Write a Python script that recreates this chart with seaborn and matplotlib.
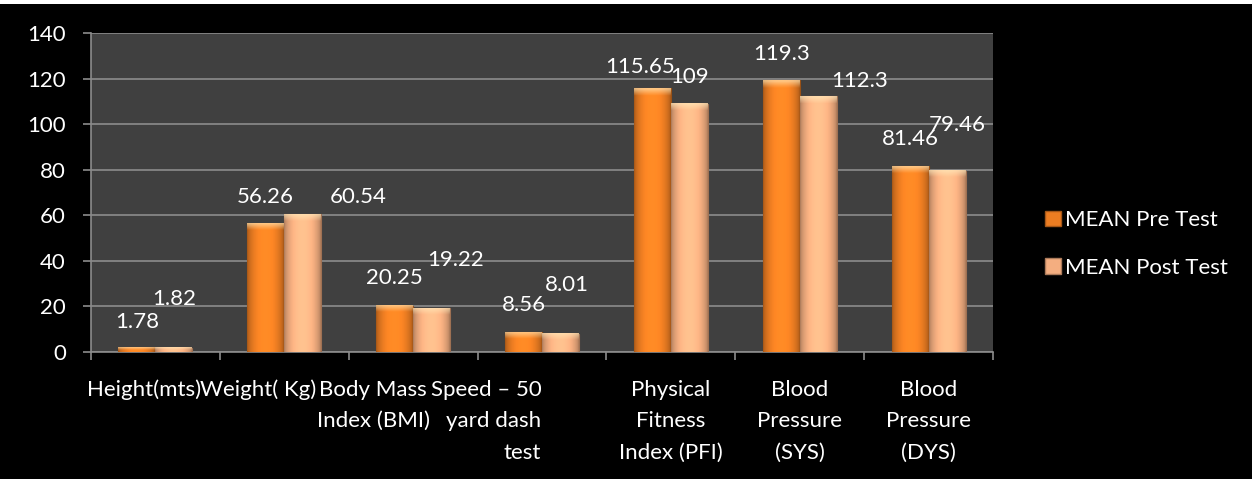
import numpy as np
import pandas as pd
import matplotlib
matplotlib.use("Agg")
import matplotlib.pyplot as plt
import matplotlib.transforms as mtransforms
from matplotlib.patches import Rectangle
import seaborn as sns

# values
categories = ["Height(mts)", "Weight( Kg)", "Body Mass\nIndex (BMI)",
              "Speed \u2013 50\nyard dash\ntest", "Physical\nFitness\nIndex (PFI)",
              "Blood\nPressure\n(SYS)", "Blood\nPressure\n(DYS)"]
pre_test = [1.78, 56.26, 20.25, 8.56, 115.65, 119.3, 81.46]
post_test = [1.82, 60.54, 19.22, 8.01, 109, 112.3, 79.46]
pre_text = ["1.78", "56.26", "20.25", "8.56", "115.65", "119.3", "81.46"]
post_text = ["1.82", "60.54", "19.22", "8.01", "109", "112.3", "79.46"]
series = ["MEAN Pre Test", "MEAN Post Test"]

# label nudges in pixels (excel put them a bit all over the place)
pre_off = [(0, 26), (0, 27), (0, 28), (0, 27), (-12, 21), (0, 26), (0, 27)]
post_off = [(0, 49), (55, 17), (24, 48), (6, 49), (0, 27), (41, 15), (10, 46)]
tick_shift = [-11, -26, -40, -56, 0, 0, 0]

colors = {"MEAN Pre Test": "#EC7D22", "MEAN Post Test": "#F4AE80"}

plt.rcParams["font.family"] = ["Lato", "DejaVu Sans"]

df = pd.DataFrame({
    "category": categories * 2,
    "value": pre_test + post_test,
    "series": [series[0]] * len(categories) + [series[1]] * len(categories),
})

fig = plt.figure(figsize=(12.52, 4.79), dpi=100, facecolor="black")
ax = fig.add_axes([91 / 1252, 1 - 352 / 479, (993 - 91) / 1252, (352 - 33) / 479])
ax.set_facecolor("#404040")

sns.barplot(data=df, x="category", y="value", hue="series", palette=colors,
            width=0.574, gap=0, dodge=True, ax=ax, saturation=1, zorder=3)

# fake the 3d cylinder look: dark sides, light top cap
for p in list(ax.patches):
    x0, w, h = p.get_x(), p.get_width(), p.get_height()
    if h <= 0:
        continue
    base = np.array(p.get_facecolor()[:3])
    t = np.linspace(0, 1, 60)
    shade = 0.7 + 0.42 * np.sin(np.pi * t) ** 0.6
    rows = 120
    img = np.ones((rows, 60, 3)) * base[None, None, :] * shade[None, :, None]
    cap = min(2.8 / h, 0.6)
    yy = np.linspace(1, 0, rows)  # row 0 is the top
    blend = np.clip((yy - (1 - cap)) / cap, 0, 1) * 0.6
    img = img * (1 - blend[:, None, None]) + np.array([1.0, 0.93, 0.75]) * blend[:, None, None]
    img = np.clip(img, 0, 1)
    ax.imshow(img, extent=[x0, x0 + w, 0, h], aspect="auto", zorder=3.5,
              interpolation="bilinear")
    p.set_edgecolor(base * 0.65)
    p.set_linewidth(0.8)

ax.set_xlim(-0.5, len(categories) - 0.5)
ax.set_ylim(0, 140)
ax.set_yticks(range(0, 141, 20))

# value labels
n = len(categories)
bars = ax.patches
for i in range(n):
    for p, txt, off in ((bars[i], pre_text[i], pre_off[i]), (bars[n + i], post_text[i], post_off[i])):
        ax.annotate(txt, (p.get_x() + p.get_width() / 2, p.get_height()),
                    xytext=(off[0] * 0.72, off[1] * 0.72), textcoords="offset points",
                    ha="center", va="center", color="white", fontsize=16, zorder=5)

grid_c = "#8C8C8C"
ax.yaxis.grid(True, color=grid_c, linewidth=1.2, zorder=0)
ax.set_axisbelow(True)
for s in ["top", "right"]:
    ax.spines[s].set_visible(False)
for s in ["left", "bottom"]:
    ax.spines[s].set_color(grid_c)
    ax.spines[s].set_linewidth(1.2)

ax.set_xticks(np.arange(-0.5, n, 1.0), minor=True)
ax.tick_params(axis="x", which="major", length=0, pad=20, labelsize=16, labelcolor="white")
ax.tick_params(axis="x", which="minor", length=6, width=1.2, color=grid_c)
ax.tick_params(axis="y", length=6, width=1.2, color=grid_c, pad=12, labelsize=16,
               labelcolor="white")
ax.set_xlabel("")
ax.set_ylabel("")

for lab, dx in zip(ax.get_xticklabels(), tick_shift):
    lab.set_linespacing(1.72)
    lab.set_transform(lab.get_transform() + mtransforms.ScaledTranslation(dx / 100, 0, fig.dpi_scale_trans))
ax.get_xticklabels()[3].set_multialignment("right")

leg = ax.legend(loc="center left", bbox_to_anchor=(1034 / 1252, 1 - 244 / 479),
                bbox_transform=fig.transFigure, frameon=False, fontsize=16,
                labelcolor="white", handlelength=0.7, handleheight=0.7,
                handletextpad=0.2, labelspacing=1.25, borderpad=0)
for hd in leg.legend_handles:
    hd.set_edgecolor(np.array(hd.get_facecolor()[:3]) * 0.7)

# bit of the cut-off page above the chart
fig.patches.append(Rectangle((0, 1 - 4 / 479), 1, 4 / 479, transform=fig.transFigure,
                             facecolor="white", edgecolor="none"))

fig.savefig("out.png", dpi=100, facecolor="black")
